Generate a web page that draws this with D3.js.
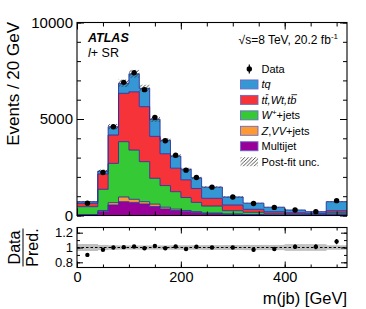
<!DOCTYPE html>
<html>
<head>
<meta charset="utf-8">
<script src="https://cdn.jsdelivr.net/npm/d3@7"></script>
<style>
  body { margin: 0; background: #fff; }
  svg { font-family: "Liberation Sans", Arial, Helvetica, sans-serif; }
</style>
</head>
<body>
<svg id="chart" width="366" height="309"></svg>
<script>
// bin edges in GeV (last bin holds the overflow)
const binEdges = [0, 40, 60, 80, 100, 120, 140, 160, 180, 200, 220, 240, 280, 320, 360, 400, 440, 480, 520];

// events / 20 GeV, per process (stacked bottom -> top)
const multijet = [30, 200, 545, 715, 680, 596, 470, 340, 260, 200, 150, 100, 60, 40, 25, 18, 12, 60];
const zvv      = [20, 60, 120, 245, 160, 119, 120, 90, 70, 60, 50, 30, 20, 10, 10, 7, 6, 20];
const wjets    = [406, 1097, 2035, 2865, 2550, 2075, 1337, 1120, 903, 670, 480, 360, 170, 115, 78, 53, 42, 85];
const ttbar    = [176, 793, 1470, 2505, 3020, 2850, 2173, 1650, 1217, 920, 720, 400, 294, 155, 84, 67, 53, 85];
const tq       = [83, 150, 430, 520, 930, 950, 885, 700, 630, 550, 550, 580, 416, 320, 233, 140, 84, 465];

const dataValues = [640, 2230, 4600, 6900, 7400, 6520, 5080, 3870, 3120, 2350, 1970, 1470, 960, 620, 420, 288, 200, 770];

// ratio panel
const ratioValues = [0.90, 0.97, 1.00, 1.005, 1.013, 0.99, 1.02, 0.99, 1.013, 0.98, 1.01, 1.0, 1.0, 0.97, 0.98, 1.01, 1.01, 1.08];
const ratioErrors = [0.012, 0.008, 0.006, 0.005, 0.005, 0.005, 0.006, 0.007, 0.008, 0.009, 0.01, 0.012, 0.014, 0.02, 0.025, 0.03, 0.035, 0.035];
// relative post-fit uncertainty
const postFitUnc = [0.047, 0.035, 0.03, 0.028, 0.028, 0.028, 0.028, 0.028, 0.03, 0.03, 0.03, 0.032, 0.033, 0.035, 0.035, 0.045, 0.045, 0.03];

const yTicksMain = [0, 5000, 10000];
const yTicksRatio = [0.8, 1, 1.2];
const xTicks = [0, 200, 400];

const keys = ['multijet', 'zvv', 'wjets', 'ttbar', 'tq'];
const colors = {
  tq: '#3598d4',
  ttbar: '#f7333a',
  wjets: '#35ca35',
  zvv: '#fd9a34',
  multijet: '#990099'
};
const edgeColor = '#2c2f9c';

const svg = d3.select('#chart');

const left = 77, right = 347;
const main = { top: 22.5, bottom: 215.5 };
const ratio = { top: 227.5, bottom: 267.5 };

const x = d3.scaleLinear().domain([0, 520]).range([left, right]);
const y = d3.scaleLinear().domain([0, 10000]).range([main.bottom, main.top]);
const yr = d3.scaleLinear().domain([0.73, 1.27]).range([ratio.bottom, ratio.top]);

const defs = svg.append('defs');
defs.append('clipPath').attr('id', 'clipMain')
  .append('rect').attr('x', left).attr('y', main.top).attr('width', right - left).attr('height', main.bottom - main.top);
defs.append('clipPath').attr('id', 'clipRatio')
  .append('rect').attr('x', left).attr('y', ratio.top).attr('width', right - left).attr('height', ratio.bottom - ratio.top);

const hatch = defs.append('pattern').attr('id', 'hatch')
  .attr('patternUnits', 'userSpaceOnUse').attr('width', 3.6).attr('height', 3.6);
hatch.append('path')
  .attr('d', 'M-0.9,0.9 l1.8,-1.8 M0,3.6 l3.6,-3.6 M2.7,4.5 l1.8,-1.8')
  .attr('stroke', '#333').attr('stroke-width', 0.85);

const rows = binEdges.slice(0, -1).map((lo, i) => ({
  lo: lo,
  hi: binEdges[i + 1],
  multijet: multijet[i],
  zvv: zvv[i],
  wjets: wjets[i],
  ttbar: ttbar[i],
  tq: tq[i]
}));

const series = d3.stack().keys(keys)(rows);

function stepPoints(s) {
  var pts = s.map(d => ({ x: d.data.lo, y0: d[0], y1: d[1] }));
  var last = s[s.length - 1];
  pts.push({ x: last.data.hi, y0: last[0], y1: last[1] });
  return pts;
}

const area = d3.area()
  .curve(d3.curveStepAfter)
  .x(d => x(d.x)).y0(d => y(d.y0)).y1(d => y(d.y1));
const topLine = d3.line()
  .curve(d3.curveStepAfter)
  .x(d => x(d.x)).y(d => y(d.y1));

const gMain = svg.append('g').attr('clip-path', 'url(#clipMain)');

gMain.selectAll('path.layer')
  .data(series)
  .join('path')
  .attr('class', 'layer')
  .attr('fill', s => colors[s.key])
  .attr('d', s => area(stepPoints(s)));

gMain.selectAll('path.edge')
  .data(series)
  .join('path')
  .attr('class', 'edge')
  .attr('fill', 'none')
  .attr('stroke', edgeColor)
  .attr('stroke-width', 0.9)
  .attr('d', s => topLine(stepPoints(s)));

const totals = rows.map(r => keys.reduce((a, k) => a + r[k], 0));

gMain.selectAll('rect.unc')
  .data(rows)
  .join('rect')
  .attr('class', 'unc')
  .attr('x', d => x(d.lo))
  .attr('width', d => x(d.hi) - x(d.lo))
  .attr('y', (d, i) => y(totals[i] * (1 + postFitUnc[i])))
  .attr('height', (d, i) => y(totals[i] * (1 - postFitUnc[i])) - y(totals[i] * (1 + postFitUnc[i])))
  .attr('fill', 'url(#hatch)');

gMain.selectAll('circle.data')
  .data(rows)
  .join('circle')
  .attr('class', 'data')
  .attr('cx', d => x((d.lo + d.hi) / 2))
  .attr('cy', (d, i) => y(dataValues[i]))
  .attr('r', 2.7)
  .attr('fill', '#000');

// ratio pad
const gRatio = svg.append('g').attr('clip-path', 'url(#clipRatio)');

gRatio.selectAll('rect.band')
  .data(rows)
  .join('rect')
  .attr('class', 'band')
  .attr('x', d => x(d.lo))
  .attr('width', d => x(d.hi) - x(d.lo) + 0.3)
  .attr('y', (d, i) => yr(1 + postFitUnc[i]))
  .attr('height', (d, i) => yr(1 - postFitUnc[i]) - yr(1 + postFitUnc[i]))
  .attr('fill', '#bfbfbf');

gRatio.append('line')
  .attr('x1', left).attr('x2', right)
  .attr('y1', yr(1)).attr('y2', yr(1))
  .attr('stroke', '#000').attr('stroke-width', 1)
  .attr('stroke-dasharray', '2.5,2');

gRatio.selectAll('line.err')
  .data(rows)
  .join('line')
  .attr('class', 'err')
  .attr('x1', d => x((d.lo + d.hi) / 2))
  .attr('x2', d => x((d.lo + d.hi) / 2))
  .attr('y1', (d, i) => yr(ratioValues[i] - ratioErrors[i]))
  .attr('y2', (d, i) => yr(ratioValues[i] + ratioErrors[i]))
  .attr('stroke', '#000').attr('stroke-width', 1.2);

gRatio.selectAll('circle.ratio')
  .data(rows)
  .join('circle')
  .attr('class', 'ratio')
  .attr('cx', d => x((d.lo + d.hi) / 2))
  .attr('cy', (d, i) => yr(ratioValues[i]))
  .attr('r', 2.2)
  .attr('fill', '#000');

// axes: ticks point inwards on all four sides
function ticks(g, axis) {
  g.call(axis);
  g.select('.domain').remove();
  g.selectAll('.tick line').attr('stroke', '#000');
}

const xMinor = d3.range(0, 521, 50);
const yMinorMain = d3.range(0, 10001, 1000);
const yMinorRatio = [0.8, 0.9, 1.0, 1.1, 1.2];

// main pad
svg.append('g').attr('transform', `translate(${left},0)`)
  .call(g => ticks(g, d3.axisLeft(y).tickValues(yMinorMain).tickSize(-4).tickFormat('')));
svg.append('g').attr('transform', `translate(${left},0)`)
  .style('font-size', '15px')
  .call(g => ticks(g, d3.axisLeft(y).tickValues(yTicksMain).tickSize(-7).tickPadding(4).tickFormat(d3.format('d'))))
  .call(g => g.selectAll('text').attr('fill', '#000').style('font-family', 'inherit'));
svg.append('g').attr('transform', `translate(${right},0)`)
  .call(g => ticks(g, d3.axisRight(y).tickValues(yMinorMain).tickSize(-4).tickFormat('')));
svg.append('g').attr('transform', `translate(${right},0)`)
  .call(g => ticks(g, d3.axisRight(y).tickValues(yTicksMain).tickSize(-7).tickFormat('')));
svg.append('g').attr('transform', `translate(0,${main.bottom})`)
  .call(g => ticks(g, d3.axisBottom(x).tickValues(xMinor).tickSize(-4).tickFormat('')));
svg.append('g').attr('transform', `translate(0,${main.bottom})`)
  .call(g => ticks(g, d3.axisBottom(x).tickValues(xTicks).tickSize(-7).tickFormat('')));
svg.append('g').attr('transform', `translate(0,${main.top})`)
  .call(g => ticks(g, d3.axisTop(x).tickValues(xMinor).tickSize(-4).tickFormat('')));
svg.append('g').attr('transform', `translate(0,${main.top})`)
  .call(g => ticks(g, d3.axisTop(x).tickValues(xTicks).tickSize(-7).tickFormat('')));

// ratio pad
svg.append('g').attr('transform', `translate(${left},0)`)
  .call(g => ticks(g, d3.axisLeft(yr).tickValues(yMinorRatio).tickSize(-3).tickFormat('')));
svg.append('g').attr('transform', `translate(${left},0)`)
  .style('font-size', '13px')
  .call(g => ticks(g, d3.axisLeft(yr).tickValues(yTicksRatio).tickSize(-6).tickPadding(4).tickFormat(d => d === 1 ? '1' : d3.format('.1f')(d))))
  .call(g => g.selectAll('text').attr('fill', '#000').style('font-family', 'inherit'));
svg.append('g').attr('transform', `translate(${right},0)`)
  .call(g => ticks(g, d3.axisRight(yr).tickValues(yMinorRatio).tickSize(-3).tickFormat('')));
svg.append('g').attr('transform', `translate(${right},0)`)
  .call(g => ticks(g, d3.axisRight(yr).tickValues(yTicksRatio).tickSize(-6).tickFormat('')));
svg.append('g').attr('transform', `translate(0,${ratio.top})`)
  .call(g => ticks(g, d3.axisTop(x).tickValues(xMinor).tickSize(-3).tickFormat('')));
svg.append('g').attr('transform', `translate(0,${ratio.top})`)
  .call(g => ticks(g, d3.axisTop(x).tickValues(xTicks).tickSize(-6).tickFormat('')));
svg.append('g').attr('transform', `translate(0,${ratio.bottom})`)
  .call(g => ticks(g, d3.axisBottom(x).tickValues(xMinor).tickSize(-3).tickFormat('')));
svg.append('g').attr('transform', `translate(0,${ratio.bottom})`)
  .style('font-size', '14.5px')
  .call(g => ticks(g, d3.axisBottom(x).tickValues(xTicks).tickSize(-6).tickPadding(4.5).tickFormat(d3.format('d'))))
  .call(g => g.selectAll('text').attr('fill', '#000').style('font-family', 'inherit'));

// frames
[main, ratio].forEach(p => {
  svg.append('rect')
    .attr('x', left).attr('y', p.top)
    .attr('width', right - left).attr('height', p.bottom - p.top)
    .attr('fill', 'none').attr('stroke', '#000').attr('stroke-width', 1.1);
});

// titles
svg.append('text')
  .attr('transform', 'translate(19,22) rotate(-90)')
  .attr('text-anchor', 'end')
  .style('font-size', '17px')
  .text('Events / 20 GeV');

svg.append('text')
  .attr('x', right).attr('y', 304)
  .attr('text-anchor', 'end')
  .style('font-size', '16.5px')
  .text('m(jb) [GeV]');

const frac = svg.append('g').attr('transform', `translate(23,${yr(1)}) rotate(-90)`);
frac.append('text').attr('text-anchor', 'middle').attr('y', -3).style('font-size', '16px').text('Data');
frac.append('text').attr('text-anchor', 'middle').attr('y', 15).style('font-size', '16px').text('Pred.');
frac.append('line').attr('x1', -19).attr('x2', 19).attr('stroke', '#000').attr('stroke-width', 1);

// labels inside the plot
svg.append('text')
  .attr('x', 88).attr('y', 42)
  .style('font-size', '12.5px').style('font-weight', 'bold').style('font-style', 'italic')
  .text('ATLAS');

const sr = svg.append('text').attr('x', 88).attr('y', 57).style('font-size', '12.5px');
sr.append('tspan').style('font-style', 'italic').text('l');
sr.append('tspan').text('+ SR');

const lumi = svg.append('text').attr('x', 338).attr('y', 44).attr('text-anchor', 'end').style('font-size', '12px');
lumi.append('tspan').text('√s=8 TeV, 20.2 fb');
lumi.append('tspan').attr('dy', -5).style('font-size', '8px').text('-1');

// legend; bar = indices of characters that get an overbar
const legendItems = [
  { key: 'data', parts: [['Data']] },
  { key: 'tq', parts: [['tq', 'i']] },
  { key: 'ttbar', parts: [['tt,Wt,tb', 'i']], bar: [1, 7] },
  { key: 'wjets', parts: [['W', 'i'], ['+', 'sup'], ['+jets', 'down']] },
  { key: 'zvv', parts: [['Z', 'i'], [','], ['VV', 'i'], ['+jets']] },
  { key: 'multijet', parts: [['Multijet']] },
  { key: 'unc', parts: [['Post-fit unc.']] }
];

const legend = svg.append('g').attr('transform', 'translate(240.5,69)');
const rowsG = legend.selectAll('g.item')
  .data(legendItems)
  .join('g')
  .attr('class', 'item')
  .attr('transform', (d, i) => `translate(0,${i * 15.45})`);

rowsG.each(function (d) {
  var g = d3.select(this);
  if (d.key === 'data') {
    g.append('line').attr('x1', 8.8).attr('x2', 8.8).attr('y1', -4.5).attr('y2', 4.5)
      .attr('stroke', '#000').attr('stroke-width', 1.2);
    g.append('circle').attr('cx', 8.8).attr('cy', 0).attr('r', 2.7).attr('fill', '#000');
  } else if (d.key === 'unc') {
    g.append('rect').attr('x', 0).attr('y', -4.5).attr('width', 17.5).attr('height', 9)
      .attr('fill', 'url(#hatch)');
  } else {
    g.append('rect').attr('x', 0).attr('y', -4.5).attr('width', 17.5).attr('height', 9)
      .attr('fill', colors[d.key]).attr('stroke', '#6a6ac8').attr('stroke-width', 0.9);
  }
  var t = g.append('text').attr('x', 21).attr('y', 4).style('font-size', '11px');
  d.parts.forEach(p => {
    var s = t.append('tspan').text(p[0]);
    var f = p[1] || '';
    if (f.indexOf('i') >= 0) s.style('font-style', 'italic');
    if (f === 'sup') s.attr('dy', -4).style('font-size', '8px');
    if (f === 'down') s.attr('dy', 4);
  });
  // overbars drawn by hand so they only sit on their own letter
  (d.bar || []).forEach(k => {
    var e = t.node().getExtentOfChar(k);
    g.append('line')
      .attr('x1', e.x + 1.2).attr('x2', e.x + e.width + 0.8)
      .attr('y1', -5.2).attr('y2', -5.2)
      .attr('stroke', '#000').attr('stroke-width', 0.8);
  });
});
</script>
</body>
</html>
